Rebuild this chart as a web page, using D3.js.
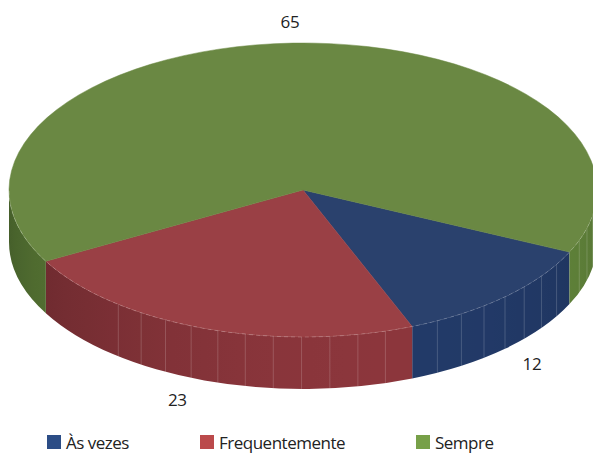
<!DOCTYPE html>
<html>
<head>
<meta charset="utf-8">
<style>
    body { margin: 0; background: #fff; }
    svg { display: block; font-family: 'Open Sans', sans-serif; }
</style>
</head>
<body>
<svg width="593" height="454"></svg>
<script src="https://d3js.org/d3.v7.min.js"></script>
<script>
// data
let categories = ["Às vezes", "Frequentemente", "Sempre"];
let values = [12, 23, 65];
let topColors = ["#2a416d", "#9a4045", "#6a8843"];
let sideColors = ["#223a68", "#8c363c", "#65893d"];
let legendColors = ["#2c4d86", "#bb4a4b", "#77a048"];

let svg = d3.select("svg");
let defs = svg.append("defs");

// ellipse geometry of the 3D pie
let cx = 303, cy = 190, rx = 294, ry = 147, depth = 52;
let deg = Math.PI / 180;

// point on the rim, t = screen angle clockwise from east
function rim(t, dy) {
    return [cx + rx * Math.cos(t), cy + ry * Math.sin(t) + (dy || 0)];
}

let pie = d3.pie()
    .sort(null)
    .startAngle(115 * deg)
    .endAngle(115 * deg + 2 * Math.PI);

let arcs = pie(values).map(function(d, i) {
    return {
        i: i,
        value: d.value,
        t0: d.startAngle - Math.PI / 2,
        t1: d.endAngle - Math.PI / 2
    };
});

// lighting on the side wall
function shade(color, t) {
    let k = 0.76 + 0.24 * Math.cos(t - 70 * deg);
    let c = d3.rgb(color);
    return d3.rgb(c.r * k, c.g * k, c.b * k).toString();
}

//---------------- SIDE WALLS ----------------
let sides = svg.append("g");
let seams = svg.append("g");
let gid = 0;
arcs.forEach(function(a) {
    // visible front half is [0, PI] (and [2PI, 3PI] after wrap)
    [[0, Math.PI], [2 * Math.PI, 3 * Math.PI]].forEach(function(win) {
        let s = Math.max(a.t0, win[0]);
        let e = Math.min(a.t1, win[1]);
        if (e <= s) return;
        let xs = rim(s)[0], xe = rim(e)[0];
        let id = "side" + (gid++);
        let grad = defs.append("linearGradient")
            .attr("id", id)
            .attr("gradientUnits", "userSpaceOnUse")
            .attr("x1", xe).attr("y1", 0)
            .attr("x2", xs).attr("y2", 0);
        let n = 12;
        for (let j = n; j >= 0; j--) {
            let u = s + (e - s) * j / n;
            grad.append("stop")
                .attr("offset", (rim(u)[0] - xe) / (xs - xe))
                .attr("stop-color", shade(sideColors[a.i], u));
        }
        sides.append("path")
            .attr("d", "M" + rim(s) + "A" + rx + "," + ry + " 0 0 1 " + rim(e) +
                "L" + rim(e, depth) + "A" + rx + "," + ry + " 0 0 0 " + rim(s, depth) + "Z")
            .attr("fill", "url(#" + id + ")");
        // faint facet seams, not on the far left wall
        let m = Math.max(1, Math.ceil((e - s) / (5.6 * deg)));
        for (let j = 1; j < m; j++) {
            let uu = (s + (e - s) * j / m) % (2 * Math.PI);
            if (uu > 130 * deg) continue;
            let p = rim(uu), q = rim(uu, depth);
            seams.append("line")
                .attr("x1", p[0]).attr("y1", p[1])
                .attr("x2", q[0]).attr("y2", q[1])
                .attr("stroke", "#ffffff")
                .attr("stroke-opacity", 0.22)
                .attr("stroke-width", 0.8);
        }
    });
});

//---------------- TOP FACE ----------------
let tops = svg.append("g");
arcs.forEach(function(a) {
    let p0 = rim(a.t0), p1 = rim(a.t1);
    let large = (a.t1 - a.t0) > Math.PI ? 1 : 0;
    tops.append("path")
        .attr("d", "M" + cx + "," + cy + "L" + p0 + "A" + rx + "," + ry + " 0 " + large + " 1 " + p1 + "Z")
        .attr("fill", topColors[a.i])
        .attr("stroke", topColors[a.i])
        .attr("stroke-width", 0.5);
});

// faint highlight along the front rim
svg.append("path")
    .attr("d", "M" + rim(0) + "A" + rx + "," + ry + " 0 0 1 " + rim(Math.PI))
    .attr("fill", "none")
    .attr("stroke", "#ffffff")
    .attr("stroke-opacity", 0.25)
    .attr("stroke-width", 0.8)
    .attr("stroke-dasharray", "4,3");

//---------------- DATA LABELS ----------------
function labelPos(a) {
    let m = (a.t0 + a.t1) / 2;
    let c = Math.cos(m), s = Math.sin(m);
    let p = rim(m, s > 0 ? depth : 0);
    let dx = 27 * Math.sign(c) * Math.min(1, Math.abs(c) * 3);
    return [p[0] + dx, p[1] + 21 * s];
}

svg.append("g")
    .selectAll("text")
    .data(arcs)
    .join("text")
    .attr("x", function(a) { return labelPos(a)[0]; })
    .attr("y", function(a) { return labelPos(a)[1] + 6; })
    .attr("text-anchor", "middle")
    .attr("font-size", 17)
    .attr("letter-spacing", -0.3)
    .attr("fill", "#222222")
    .text(function(a) { return a.value; });

//---------------- LEGEND ----------------
let legendX = d3.scaleOrdinal()
    .domain(categories)
    .range([47, 200, 416]);

let legend = svg.append("g")
    .selectAll("g")
    .data(categories)
    .join("g")
    .attr("transform", function(d) {
        return "translate(" + legendX(d) + ",435)";
    });

legend.append("rect")
    .attr("width", 14)
    .attr("height", 14)
    .attr("fill", function(d, i) { return legendColors[i]; });

legend.append("text")
    .attr("x", 19)
    .attr("y", 13.5)
    .attr("font-size", 17)
    .attr("letter-spacing", -0.5)
    .attr("fill", "#222222")
    .text(function(d) { return d; });
</script>
</body>
</html>
